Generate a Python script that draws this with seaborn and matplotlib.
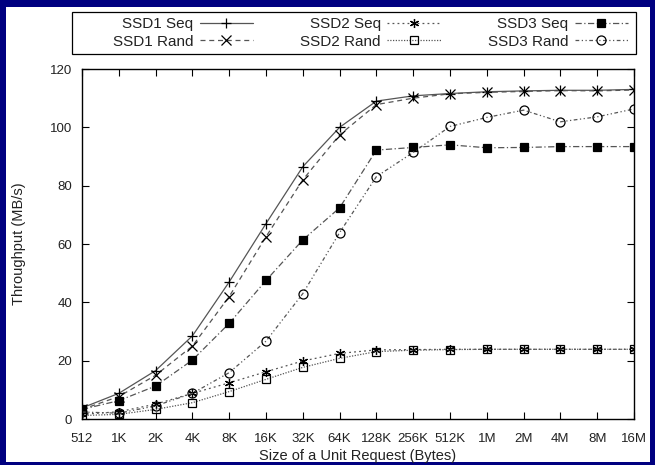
"""SSD throughput vs unit request size (gnuplot-style line chart)."""

import matplotlib

matplotlib.use("Agg")
import matplotlib.pyplot as plt
import seaborn as sns
from matplotlib.patches import Rectangle

sns.set_theme(style="ticks")
plt.rcParams["font.family"] = ["Liberation Sans", "DejaVu Sans"]

# data
SIZES = ["512", "1K", "2K", "4K", "8K", "16K", "32K", "64K",
         "128K", "256K", "512K", "1M", "2M", "4M", "8M", "16M"]
ssd1_seq = [3.8, 8.8, 16.6, 28.5, 47.0, 67.0, 86.5, 100.0,
            109.0, 110.8, 111.6, 112.2, 112.5, 112.7, 112.7, 113.0]
ssd1_rand = [3.3, 7.7, 15.0, 25.0, 42.0, 62.5, 82.0, 97.4,
             107.8, 110.0, 111.5, 112.0, 112.3, 112.6, 112.5, 112.8]
ssd2_seq = [1.6, 2.5, 5.1, 8.8, 12.4, 16.2, 19.9, 22.5,
            23.7, 23.8, 23.9, 23.9, 23.9, 23.9, 23.9, 23.9]
ssd2_rand = [1.2, 1.6, 3.3, 5.6, 9.4, 13.6, 17.7, 20.8,
             23.1, 23.6, 23.8, 23.9, 23.9, 23.9, 23.9, 23.9]
ssd3_seq = [3.3, 6.3, 11.3, 20.2, 32.8, 47.5, 61.4, 72.4,
            92.2, 93.1, 94.0, 93.0, 93.1, 93.4, 93.4, 93.4]
ssd3_rand = [2.4, 2.0, 4.5, 8.8, 15.9, 26.7, 43.0, 63.9,
             83.1, 91.4, 100.3, 103.4, 105.9, 101.9, 103.6, 106.3]

SERIES = [
    ("SSD1 Seq", ssd1_seq, "-", "+", "black", 7.5),
    ("SSD1 Rand", ssd1_rand, (0, (4, 3)), "x", "black", 6.5),
    ("SSD2 Seq", ssd2_seq, (0, (1.5, 2.5)), (6, 2, 0), "black", 6.5),
    ("SSD2 Rand", ssd2_rand, (0, (1, 1.2)), "s", "none", 6),
    ("SSD3 Seq", ssd3_seq, (0, (5, 2, 1, 2)), "s", "black", 6.3),
    ("SSD3 Rand", ssd3_rand, (0, (3, 2, 1, 2, 1, 2)), "o", "none", 6.5),
]

fig = plt.figure(figsize=(6.55, 4.65), dpi=100)
fig.patch.set_facecolor("#000080")
# white page inside the navy border
fig.patches.append(Rectangle((0.0092, 0.0065), 0.983, 0.979,
                             transform=fig.transFigure, facecolor="white",
                             edgecolor="none", zorder=-5))
# legend box drawn by hand (gnuplot-style padding)
fig.patches.append(Rectangle((72 / 655, 1 - 54 / 465), 564 / 655, 42 / 465,
                             transform=fig.transFigure, facecolor="white",
                             edgecolor="black", linewidth=0.9, zorder=-4))

ax = fig.add_axes([0.1252, 0.0989, 0.8427, 0.7527])
ax.set_facecolor("white")

pos = list(range(len(SIZES)))
for label, vals, ls, mk, mfc, ms in SERIES:
    sns.lineplot(x=pos, y=vals, ax=ax, label=label, color="#555555",
                 linestyle=ls, linewidth=0.9, marker=mk, markersize=ms,
                 markerfacecolor=mfc, markeredgecolor="black",
                 markeredgewidth=0.9)

ax.set_xlim(0, 15)
ax.set_ylim(0, 120)
ax.set_xticks(pos)
ax.set_xticklabels(SIZES)
ax.set_yticks(range(0, 121, 20))
ax.tick_params(direction="in", length=5, width=0.8, top=True, right=True,
               labelsize=9.5, colors="black", labelcolor="#222222")
ax.tick_params(axis="x", pad=10)
ax.tick_params(axis="y", pad=7)
for sp in ax.spines.values():
    sp.set_visible(True)
    sp.set_color("black")
    sp.set_linewidth(1.0)

ax.set_xlabel("Size of a Unit Request (Bytes)", fontsize=10.5,
              color="#222222", labelpad=3)
ax.set_ylabel("Throughput (MB/s)", fontsize=10.5, color="#222222",
              labelpad=17)

handles, labels = ax.get_legend_handles_labels()
ax.legend_.remove()
leg = fig.legend(handles, labels, ncol=3, loc="center right",
                 bbox_to_anchor=(628 / 655, 1 - 33 / 465),
                 bbox_transform=fig.transFigure, frameon=False,
                 markerfirst=False, fontsize=11, handlelength=3.5,
                 handletextpad=0.4, labelspacing=0.2, borderpad=0,
                 columnspacing=3.1, borderaxespad=0)
for t in leg.get_texts():
    t.set_color("#222222")

fig.savefig("out.png", dpi=100, facecolor=fig.get_facecolor())
plt.close(fig)
